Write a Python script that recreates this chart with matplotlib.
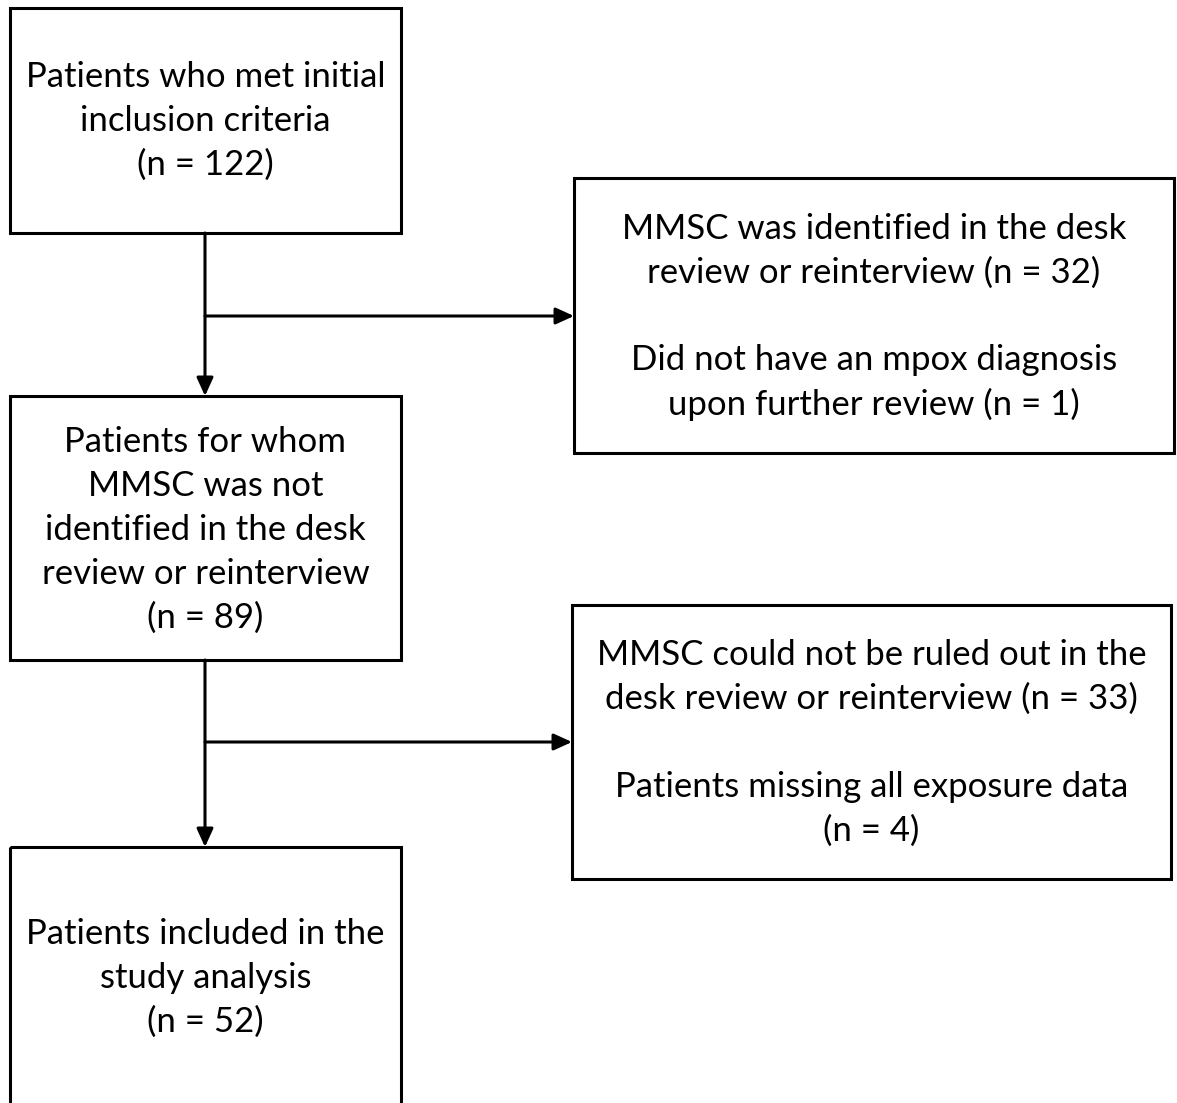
import matplotlib.pyplot as plt
from matplotlib.patches import Rectangle

# Textos de cada caja del diagrama de flujo
main_boxes = [
    "Patients who met initial\ninclusion criteria\n(n = 122)",
    "Patients for whom\nMMSC was not\nidentified in the desk\nreview or reinterview\n(n = 89)",
    "Patients included in the\nstudy analysis\n(n = 52)",
]
excluded_boxes = [
    "MMSC was identified in the desk\nreview or reinterview (n = 32)\n\n"
    "Did not have an mpox diagnosis\nupon further review (n = 1)",
    "MMSC could not be ruled out in the\ndesk review or reinterview (n = 33)\n\n"
    "Patients missing all exposure data\n(n = 4)",
]

# Posiciones en pixeles (x0, y0, x1, y1)
main_pos = [(10, 8, 401, 233), (10, 396, 401, 660), (10, 847, 401, 1115)]
main_text_y = [121, 530, 978]
excl_pos = [(574, 178, 1174, 453), (572, 605, 1171, 879)]
excl_text_y = [317, 743]
branch_y = [316, 742]
x_mid = 205

plt.rcParams['font.family'] = ['Lato', 'DejaVu Sans']

fig = plt.figure(figsize=(11.77, 11.03), dpi=100)
ax = fig.add_axes([0, 0, 1, 1])
ax.set_xlim(0, 1177)
ax.set_ylim(1103, 0)
ax.axis('off')

lw = 2.2
fs = 25

def box(p, text, ty):
    x0, y0, x1, y1 = p
    ax.add_patch(Rectangle((x0, y0), x1 - x0, y1 - y0, fill=False,
                           edgecolor='black', linewidth=lw))
    ax.text((x0 + x1) / 2, ty, text, ha='center', va='center',
            fontsize=fs, linespacing=1.45, color='black')

for p, t, ty in zip(main_pos, main_boxes, main_text_y):
    box(p, t, ty)
for p, t, ty in zip(excl_pos, excluded_boxes, excl_text_y):
    box(p, t, ty)

arrow = dict(arrowstyle='-|>,head_length=1.1,head_width=0.5', color='black',
             lw=lw, shrinkA=0, shrinkB=0)

# Flechas verticales y ramas hacia la derecha
for i in range(2):
    ax.annotate('', xy=(x_mid, main_pos[i + 1][1]), xytext=(x_mid, main_pos[i][3]),
                arrowprops=arrow)
    ax.annotate('', xy=(excl_pos[i][0], branch_y[i]), xytext=(x_mid, branch_y[i]),
                arrowprops=arrow)

fig.savefig('out.png', dpi=100)
